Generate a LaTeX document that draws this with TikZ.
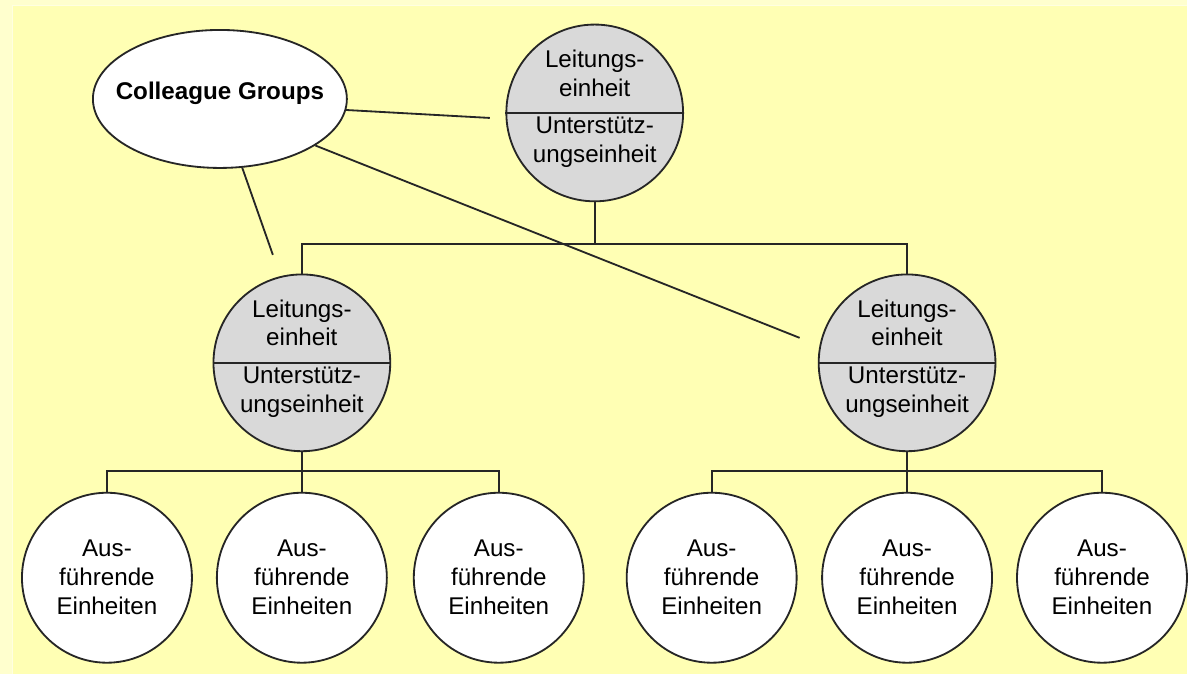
\documentclass[tikz,border=0pt]{standalone}
\usepackage{fontspec}
\setmainfont{Liberation Sans}
\usetikzlibrary{shapes.geometric}
\definecolor{paper}{RGB}{255,255,206}
\definecolor{sheet}{RGB}{255,255,180}
\definecolor{unitgray}{RGB}{217,217,217}

\begin{document}
\begin{tikzpicture}[x=0.025cm,y=-0.025cm,line width=1.3pt,draw=black!85,
  font=\fontsize{17.2}{20.6}\selectfont,
  lead/.style={circle,draw,fill=unitgray,minimum size=4.42cm,inner sep=0pt},
  exec/.style={circle,draw,fill=white,minimum size=4.25cm,inner sep=0pt,align=center},
  txt/.style={align=center,inner sep=0pt}]
% sheet on paper
\fill[paper] (0,0) rectangle (1188,674);
\fill[sheet] (13,6) rectangle (1188,674);
\draw[white!60!sheet,line width=0.8pt] (12.5,674) |- (1188,5.5);
\useasboundingbox (0,0) rectangle (1188,674);

% management units, split in two halves
\node[lead] (top)   at (595,113) {};
\node[lead] (left)  at (302,363) {};
\node[lead] (right) at (907.5,363) {};
\foreach \u in {top,left,right}{
  \draw (\u.west) -- (\u.east);
  \path (\u) ++(0,-40) node[txt] (\u-lt) {Leitungs-\\einheit}
             ++(0,69)  node[txt] (\u-us) {Unterstütz-\\ungseinheit};
}

% executing units
\foreach \x/\n in {107/a1,302/a2,499/a3,712/b1,907.5/b2,1102.5/b3}
  \node[exec] (\n) at (\x,578) {Aus-\\führende\\Einheiten};

% hierarchy
\draw (top.south) -- ++(0,42) coordinate (tj);
\draw (left.north) |- (tj) -| (right.north);
\draw (left.south) -- ++(0,19) coordinate (lj);
\draw (a1.north) |- (lj) -| (a3.north);
\draw (lj) -- (a2.north);
\draw (right.south) -- ++(0,19) coordinate (rj);
\draw (b1.north) |- (rj) -| (b3.north);
\draw (rj) -- (b2.north);

% colleague groups across the levels
\node[ellipse,draw,fill=white,minimum width=6.35cm,minimum height=3.45cm,inner sep=0pt] (cg) at (220,99) {};
\node[font=\fontsize{17.2}{20.6}\selectfont\bfseries] (cgtext) at (220,93) {Colleague Groups};
\coordinate (e1) at (490,118);
\coordinate (e2) at (800,338);
\coordinate (e3) at (273,255);
\draw (cg.-5) -- (e1);
\draw (cg.-26) -- (e2);
\draw (cg.-72) -- (e3);
\end{tikzpicture}
\end{document}
